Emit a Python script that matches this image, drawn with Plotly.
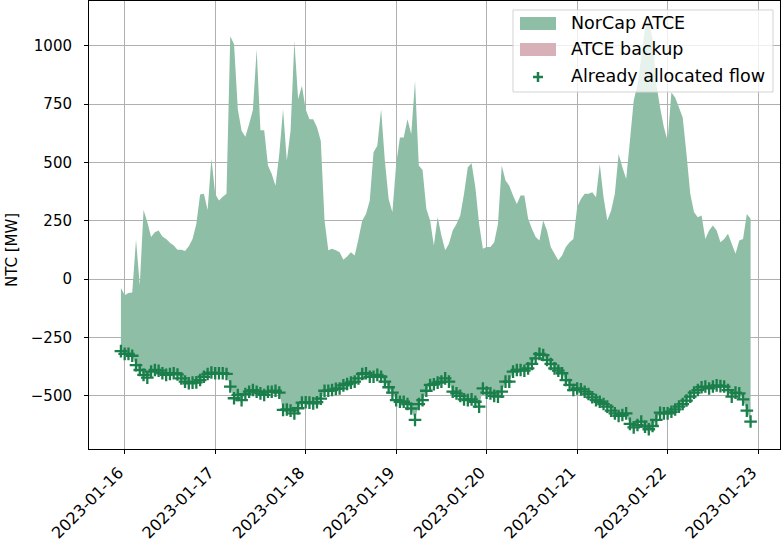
import pandas as pd
import plotly.graph_objects as go

# hourly timestamps, 2023-01-15 23:00 .. 2023-01-22 22:00
times = pd.date_range("2023-01-15 23:00", periods=168, freq="h")

# already allocated flow [MW]
flow = [
    -309, -321, -321, -329, -369, -390, -411, -423, -397, -390,
    -393, -404, -411, -407, -404, -409, -426, -440, -447, -444,
    -443, -433, -419, -407, -401, -404, -404, -404, -407, -461,
    -511, -497, -519, -493, -483, -476, -483, -490, -497, -483,
    -483, -479, -487, -561, -559, -564, -576, -554, -530, -528,
    -530, -533, -528, -513, -479, -479, -476, -471, -469, -456,
    -450, -444, -440, -426, -407, -404, -419, -419, -411, -419,
    -440, -464, -487, -519, -526, -526, -536, -555, -604, -536,
    -519, -479, -454, -451, -444, -440, -426, -440, -483, -490,
    -501, -516, -519, -516, -526, -547, -469, -487, -490, -501,
    -504, -483, -440, -440, -397, -390, -390, -393, -383, -364,
    -340, -321, -326, -347, -364, -383, -393, -404, -433, -454,
    -476, -469, -473, -483, -493, -507, -519, -526, -536, -547,
    -564, -576, -587, -583, -576, -621, -636, -626, -611, -633,
    -644, -630, -604, -573, -576, -576, -569, -559, -547, -536,
    -521, -504, -487, -476, -464, -461, -469, -461, -456, -459,
    -461, -476, -504, -487, -490, -516, -564, -611,
]

# top of NorCap ATCE domain [MW]
atce_top = [
    -38, -70, -60, -58, 168, -27, 296, 244, 180, 200,
    208, 182, 172, 155, 144, 125, 125, 120, 140, 172,
    236, 362, 365, 296, 517, 365, 336, 353, 365, 1041,
    1006, 728, 635, 610, 664, 724, 984, 638, 638, 486,
    450, 400, 536, 728, 507, 635, 1020, 771, 828, 728,
    685, 685, 650, 593, 251, 123, 130, 123, 115, 83,
    97, 115, 101, 172, 251, 279, 336, 543, 571, 728,
    507, 343, 286, 493, 607, 607, 685, 621, 849, 486,
    467, 301, 251, 144, 265, 187, 123, 151, 208, 236,
    272, 365, 479, 496, 393, 236, 130, 137, 137, 158,
    236, 486, 422, 400, 358, 322, 358, 358, 258, 215,
    180, 165, 251, 208, 137, 108, 80, 101, 137, 158,
    172, 308, 343, 365, 365, 372, 350, 493, 350, 251,
    293, 365, 536, 479, 429, 593, 764, 835, 950, 1077,
    1100, 1034, 835, 735, 650, 593, 799, 778, 735, 692,
    536, 365, 286, 265, 272, 172, 208, 229, 208, 158,
    172, 194, 151, 108, 165, 172, 279, 258,
]

# backup ATCE on top of the allocated flow (not used in this period)
atce_backup = [0] * len(flow)
backup_top = [f + b for f, b in zip(flow, atce_backup)]

legend_labels = ["NorCap ATCE", "ATCE backup", "Already allocated flow"]

green_fill = "rgb(142,190,166)"
pink_fill = "rgb(216,176,184)"
dark_green = "rgb(26,127,75)"

fig = go.Figure()

fig.add_trace(go.Scatter(
    x=times, y=flow, mode="lines", line=dict(width=0),
    showlegend=False, hoverinfo="skip",
))
fig.add_trace(go.Scatter(
    x=times, y=backup_top, mode="none", fill="tonexty",
    fillcolor=pink_fill, name=legend_labels[1],
))
fig.add_trace(go.Scatter(
    x=times, y=atce_top, mode="none", fill="tonexty",
    fillcolor=green_fill, name=legend_labels[0],
))
fig.add_trace(go.Scatter(
    x=times, y=flow, mode="markers", name=legend_labels[2],
    marker=dict(symbol="cross-thin", size=9, line=dict(width=2.3, color=dark_green)),
))

axis_common = dict(
    showline=True, linecolor="black", linewidth=1, mirror=True,
    showgrid=True, gridcolor="#b0b0b0", gridwidth=1,
    ticks="outside", ticklen=4, tickcolor="black",
    zeroline=False, automargin=False,
)

fig.update_xaxes(
    **axis_common,
    range=["2023-01-15 14:32", "2023-01-23 05:48"],
    tickvals=pd.date_range("2023-01-16", "2023-01-23", freq="D"),
    tickformat="%Y-%m-%d", tickangle=-45,
    tickfont=dict(size=16, color="black"),
    ticklabelstandoff=3, ticklabelshift=-6,
)
yticks = [-500, -250, 0, 250, 500, 750, 1000]
fig.update_yaxes(
    **axis_common,
    range=[-728.6, 1191.6],
    tickvals=yticks,
    ticktext=[str(v).replace("-", "\u2212") for v in yticks],
    tickfont=dict(size=15, color="black"),
    ticklabelstandoff=9,
)

# matplotlib-style legend box drawn in pixel terms of the plot area
L, T, W, H = 89, 1, 691, 448


def px(x):
    return (x - L) / W


def py(y):
    return 1 - (y - T) / H


shapes = [
    dict(type="rect", xref="paper", yref="paper",
         x0=px(513), x1=px(773), y0=py(92), y1=py(10),
         fillcolor="rgba(255,255,255,0.8)", line=dict(color="#d3d3d3", width=1),
         layer="above"),
    dict(type="rect", xref="paper", yref="paper",
         x0=px(520), x1=px(556), y0=py(30), y1=py(17),
         fillcolor=green_fill, line=dict(width=0), layer="above"),
    dict(type="rect", xref="paper", yref="paper",
         x0=px(520), x1=px(556), y0=py(56), y1=py(43),
         fillcolor=pink_fill, line=dict(width=0), layer="above"),
    dict(type="line", xref="paper", yref="paper",
         x0=px(533), x1=px(543), y0=py(77), y1=py(77),
         line=dict(color=dark_green, width=2.5), layer="above"),
    dict(type="line", xref="paper", yref="paper",
         x0=px(538), x1=px(538), y0=py(72), y1=py(82),
         line=dict(color=dark_green, width=2.5), layer="above"),
]
annotations = [
    dict(xref="paper", yref="paper", x=px(569), y=py(yc), text=lab,
         showarrow=False, xanchor="left", yanchor="middle",
         font=dict(size=17.5, color="black"))
    for lab, yc in zip(legend_labels, [23, 49, 76])
]
annotations.append(dict(
    xref="paper", yref="paper", x=px(12), y=py(250), text="NTC [MW]",
    showarrow=False, textangle=-90, xanchor="center", yanchor="middle",
    font=dict(size=15, color="black"),
))

fig.update_layout(
    width=782, height=545,
    margin=dict(l=L, r=782 - L - W, t=T, b=545 - T - H),
    plot_bgcolor="white", paper_bgcolor="white",
    font=dict(family="DejaVu Sans", size=14, color="black"),
    showlegend=False,
    shapes=shapes,
    annotations=annotations,
)

fig.write_html(
    "out.html",
    config={"displayModeBar": False},
    post_script="document.body.style.margin='0px';",
)
